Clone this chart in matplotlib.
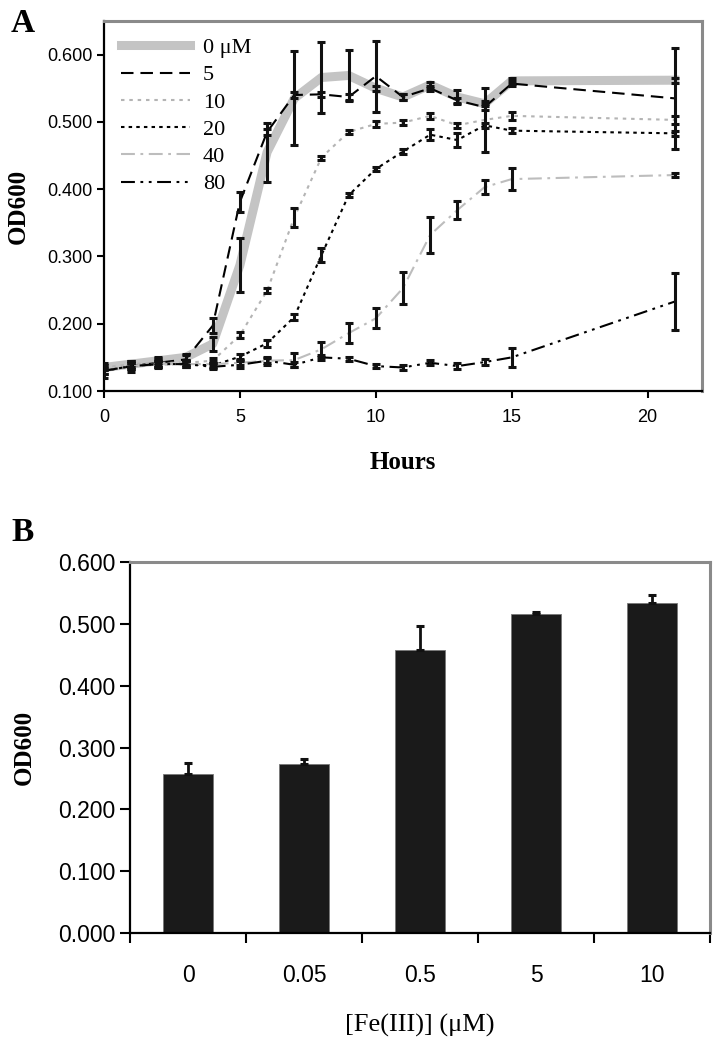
import matplotlib
matplotlib.use('Agg')
import matplotlib.pyplot as plt
import numpy as np

plt.rcParams['lines.scale_dashes'] = False
plt.rcParams['font.family'] = ['Liberation Sans', 'DejaVu Sans']

# ---- panel A: growth curves (OD600 vs hours) ----
hours = [0, 1, 2, 3, 4, 5, 6, 7, 8, 9, 10, 11, 12, 13, 14, 15, 21]

od_0 = [0.135, 0.140, 0.145, 0.150, 0.170, 0.287, 0.455, 0.535, 0.566, 0.569, 0.550, 0.537, 0.555, 0.537, 0.527, 0.561, 0.562]
err_0 = [0.004, 0.004, 0.004, 0.004, 0.011, 0.040, 0.044, 0.070, 0.053, 0.038, 0.004, 0.004, 0.004, 0.010, 0.004, 0.004, 0.004]

od_5 = [0.130, 0.137, 0.142, 0.147, 0.197, 0.381, 0.485, 0.540, 0.541, 0.537, 0.568, 0.537, 0.550, 0.532, 0.522, 0.557, 0.535]
err_5 = [0.011, 0.008, 0.008, 0.008, 0.011, 0.015, 0.004, 0.004, 0.004, 0.004, 0.053, 0.004, 0.004, 0.004, 0.004, 0.004, 0.075]

od_10 = [0.135, 0.140, 0.142, 0.142, 0.145, 0.183, 0.249, 0.358, 0.447, 0.485, 0.497, 0.499, 0.509, 0.495, 0.503, 0.509, 0.503]
err_10 = [0.004, 0.004, 0.004, 0.004, 0.004, 0.004, 0.004, 0.014, 0.003, 0.003, 0.004, 0.004, 0.004, 0.004, 0.048, 0.006, 0.006]

od_20 = [0.130, 0.137, 0.140, 0.140, 0.138, 0.151, 0.171, 0.210, 0.302, 0.391, 0.430, 0.456, 0.481, 0.473, 0.495, 0.487, 0.483]
err_20 = [0.004, 0.004, 0.004, 0.004, 0.004, 0.004, 0.005, 0.005, 0.010, 0.003, 0.003, 0.003, 0.008, 0.010, 0.004, 0.004, 0.004]

od_40 = [0.130, 0.137, 0.140, 0.140, 0.140, 0.142, 0.145, 0.146, 0.162, 0.186, 0.208, 0.253, 0.332, 0.369, 0.403, 0.415, 0.421]
err_40 = [0.004, 0.004, 0.004, 0.004, 0.004, 0.004, 0.004, 0.010, 0.011, 0.015, 0.015, 0.024, 0.027, 0.014, 0.010, 0.016, 0.003]

od_80 = [0.130, 0.137, 0.140, 0.140, 0.136, 0.139, 0.145, 0.139, 0.150, 0.148, 0.137, 0.135, 0.142, 0.137, 0.143, 0.150, 0.233]
err_80 = [0.004, 0.004, 0.004, 0.004, 0.004, 0.005, 0.006, 0.004, 0.004, 0.003, 0.003, 0.004, 0.004, 0.004, 0.005, 0.014, 0.042]

series_labels = ['0 \u03bcM', '5', '10', '20', '40', '80']

# ---- panel B: OD600 vs iron ----
fe_conc = ['0', '0.05', '0.5', '5', '10']
od_fe = [0.258, 0.273, 0.458, 0.516, 0.534]
err_fe = [0.017, 0.008, 0.039, 0.003, 0.012]

SERIF = ['Liberation Serif', 'DejaVu Serif']
GRAYSPINE = '#8a8a8a'

fig = plt.figure(figsize=(7.2, 10.5), dpi=100)
axA = fig.add_axes([0.1444, 0.6276, 0.8306, 0.3524])
axB = fig.add_axes([0.1806, 0.1114, 0.8056, 0.3533])

# line styles: (data, err, color, width, dashes)
styles = [
    (od_0, err_0, '#c4c4c4', 6.5, None),
    (od_5, err_5, 'black', 1.5, (9, 5)),
    (od_10, err_10, '#b4b4b4', 1.5, (2.5, 3.5)),
    (od_20, err_20, 'black', 1.5, (2.5, 3)),
    (od_40, err_40, '#bdbdbd', 1.5, (10, 4, 2, 4)),
    (od_80, err_80, 'black', 1.5, (10, 4, 2, 4, 2, 4)),
]

handles = []
for (vals, errs, col, lw, dash), lab in zip(styles, series_labels):
    ln, = axA.plot(hours, vals, color=col, lw=lw, label=lab, zorder=2 if dash is None else 3)
    if dash is not None:
        ln.set_dashes(dash)
    handles.append(ln)

for (vals, errs, col, lw, dash) in styles:
    axA.errorbar(hours, vals, yerr=errs, fmt='none', ecolor='#111111',
                 elinewidth=2.2, capsize=2.6, capthick=2.2, zorder=4)

axA.set_xlim(0, 22)
axA.set_ylim(0.1, 0.65)
axA.set_xticks([0, 5, 10, 15, 20])
axA.set_yticks([0.1, 0.2, 0.3, 0.4, 0.5, 0.6])
axA.set_yticklabels(['%.3f' % v for v in [0.1, 0.2, 0.3, 0.4, 0.5, 0.6]])
axA.tick_params(labelsize=13, length=5, width=1.5, direction='out')
axA.tick_params(axis='x', pad=8)
axA.set_xlabel('Hours', family=SERIF, fontweight='bold', fontsize=18, labelpad=18)
axA.set_ylabel('OD600', family=SERIF, fontweight='bold', fontsize=18, labelpad=12)

leg = axA.legend(handles=handles, loc='upper left', frameon=False,
                 prop={'family': SERIF, 'size': 16}, handlelength=3.1,
                 handletextpad=0.6, labelspacing=0.3, borderaxespad=0.35)

# panel B bars
xpos = np.arange(len(fe_conc))
axB.bar(xpos, od_fe, width=0.43, color='#1a1a1a', edgecolor='#777777', linewidth=0.6, zorder=2)
axB.errorbar(xpos, od_fe, yerr=[np.zeros(len(od_fe)), err_fe], fmt='none',
             ecolor='#111111', elinewidth=2.0, capsize=3, capthick=2.2, zorder=3)
axB.set_xlim(-0.5, len(fe_conc) - 0.5)
axB.set_ylim(0, 0.6)
axB.set_yticks([0, 0.1, 0.2, 0.3, 0.4, 0.5, 0.6])
axB.set_yticklabels(['%.3f' % v for v in [0, 0.1, 0.2, 0.3, 0.4, 0.5, 0.6]])
axB.set_xticks(xpos)
axB.set_xticklabels(fe_conc)
axB.set_xticks(np.arange(-0.5, len(fe_conc)), minor=True)
axB.tick_params(axis='x', which='major', length=0, labelsize=16.5, pad=22)
axB.tick_params(axis='x', which='minor', length=7, width=1.5, direction='out')
axB.tick_params(axis='y', labelsize=16.5, length=7, width=1.5, direction='out')
axB.set_xlabel('[Fe(III)] (\u03bcM)', family=SERIF, fontsize=19, labelpad=20)
axB.set_ylabel('OD600', family=SERIF, fontweight='bold', fontsize=18, labelpad=16)

for ax in (axA, axB):
    ax.spines['left'].set_linewidth(1.6)
    ax.spines['bottom'].set_linewidth(1.6)
    ax.spines['top'].set_color(GRAYSPINE)
    ax.spines['right'].set_color(GRAYSPINE)
    ax.spines['top'].set_linewidth(2.2)
    ax.spines['right'].set_linewidth(2.2)

fig.text(0.032, 0.978, 'A', family=SERIF, fontweight='bold', fontsize=24, ha='center', va='center')
fig.text(0.031, 0.493, 'B', family=SERIF, fontweight='bold', fontsize=24, ha='center', va='center')

fig.savefig('out.png', dpi=100)
